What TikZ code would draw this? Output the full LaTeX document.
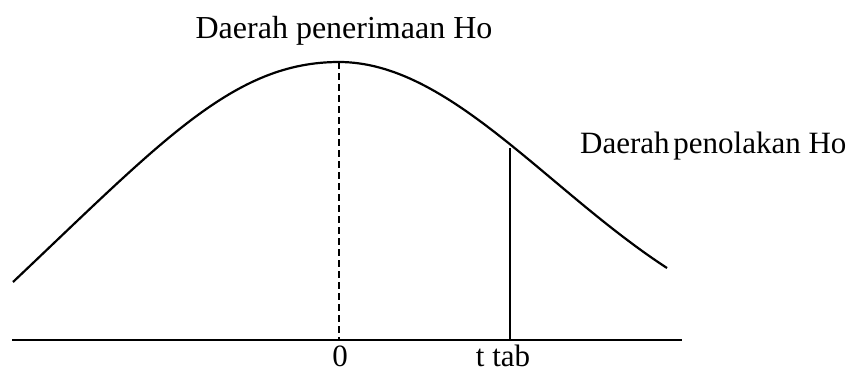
\documentclass[tikz,border=0pt]{standalone}
\usepackage{fontspec}
\setmainfont{Liberation Serif}
\begin{document}
\begin{tikzpicture}[x=1pt,y=-1pt,
  lbl/.style={inner sep=0pt,font=\fontsize{31}{37}\selectfont},
  ln/.style={line width=2.2pt,black},
  dashln/.style={line width=2.2pt,black,dash pattern=on 7pt off 4pt}]
\useasboundingbox (0,0) rectangle (861,372);
% coordinates
\coordinate (cl) at (13,282);
\coordinate (peak) at (339,62);
\coordinate (cr) at (667,268);
\coordinate (axL) at (12,340);
\coordinate (axR) at (682,340);
\coordinate (zero) at (339,340);
\coordinate (tt) at (510,340);
\coordinate (ttop) at (510,148);
% curve
\draw[ln,line join=round] (cl) .. controls (163,140) and (234,62) .. (peak)
  .. controls (449,62) and (547,190) .. (cr);
% axis
\draw[ln] (axL) -- (axR);
\draw[dashln] (peak) -- (zero);
\draw[ln] (ttop) -- (tt);
% labels
\node[lbl,anchor=base,font=\fontsize{32}{38}\selectfont] (acc) at (344,38) {Daerah penerimaan Ho};
\node[lbl,anchor=base west] (rej) at (580,153) {Daerah\hspace{0.12em}penolakan Ho};
\node[lbl,anchor=base] (l0) at (340,366) {0};
\node[lbl,anchor=base] (lt) at (503,366) {t tab};
\end{tikzpicture}
\end{document}
